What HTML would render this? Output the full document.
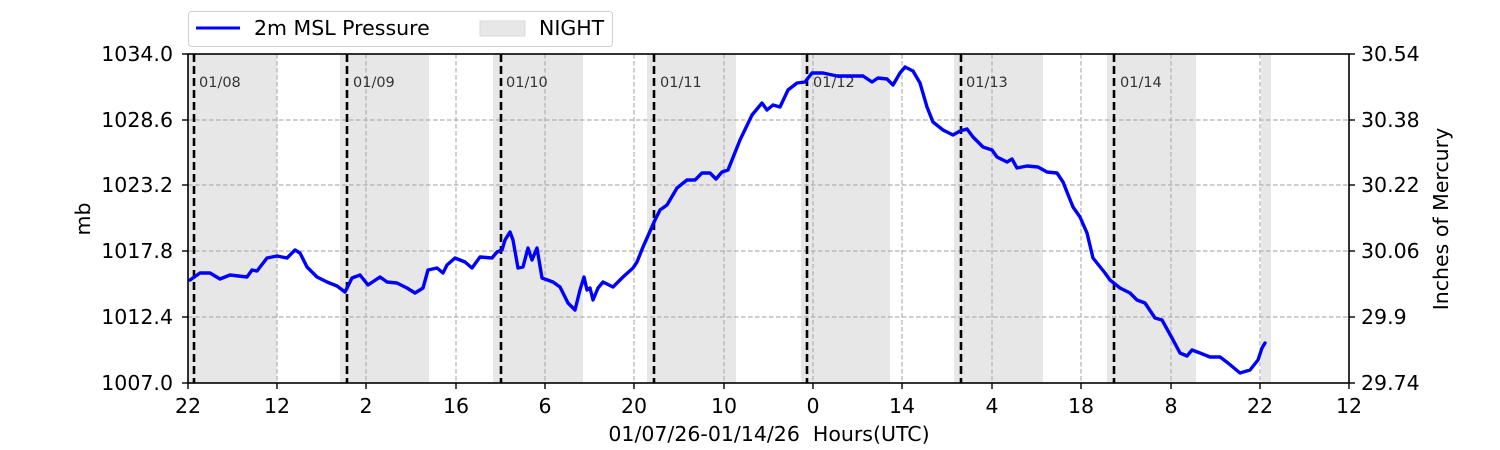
<!DOCTYPE html>
<html><head><meta charset="utf-8"><style>
html,body{margin:0;padding:0;background:#fff}
svg{display:block;font-family:"DejaVu Sans","Liberation Sans",sans-serif}
</style></head><body>
<svg width="1500" height="450" viewBox="0 0 1500 450" xmlns="http://www.w3.org/2000/svg">
<g fill="#e7e7e7">
<rect x="188" y="54" width="89" height="329"/>
<rect x="340" y="54" width="89" height="329"/>
<rect x="493" y="54" width="90" height="329"/>
<rect x="647" y="54" width="89" height="329"/>
<rect x="801" y="54" width="89" height="329"/>
<rect x="954" y="54" width="89" height="329"/>
<rect x="1107" y="54" width="89" height="329"/>
<rect x="1261" y="54" width="10" height="329"/>
</g>
<g stroke="#b0b0b0" stroke-width="1.2" stroke-dasharray="4.5,2.5" fill="none">
<line x1="188" y1="120" x2="1349" y2="120"/>
<line x1="188" y1="185" x2="1349" y2="185"/>
<line x1="188" y1="251" x2="1349" y2="251"/>
<line x1="188" y1="317" x2="1349" y2="317"/>
<line x1="277" y1="54" x2="277" y2="383"/>
<line x1="366" y1="54" x2="366" y2="383"/>
<line x1="456" y1="54" x2="456" y2="383"/>
<line x1="545" y1="54" x2="545" y2="383"/>
<line x1="634" y1="54" x2="634" y2="383"/>
<line x1="724" y1="54" x2="724" y2="383"/>
<line x1="813" y1="54" x2="813" y2="383"/>
<line x1="902" y1="54" x2="902" y2="383"/>
<line x1="992" y1="54" x2="992" y2="383"/>
<line x1="1081" y1="54" x2="1081" y2="383"/>
<line x1="1171" y1="54" x2="1171" y2="383"/>
<line x1="1260" y1="54" x2="1260" y2="383"/>
</g>
<g stroke="#000" stroke-width="2.6" stroke-dasharray="8,4" fill="none">
<line x1="194" y1="54" x2="194" y2="383"/>
<line x1="347" y1="54" x2="347" y2="383"/>
<line x1="501" y1="54" x2="501" y2="383"/>
<line x1="654" y1="54" x2="654" y2="383"/>
<line x1="807" y1="54" x2="807" y2="383"/>
<line x1="961" y1="54" x2="961" y2="383"/>
<line x1="1114" y1="54" x2="1114" y2="383"/>
</g>
<g font-size="14.5" fill="#333">
<text x="199" y="87">01/08</text><text x="353" y="87">01/09</text><text x="506" y="87">01/10</text>
<text x="660" y="87">01/11</text><text x="813" y="87">01/12</text><text x="966" y="87">01/13</text><text x="1120" y="87">01/14</text>
</g>
<polyline fill="none" stroke="#0000ff" stroke-width="3.4" stroke-linejoin="round" stroke-linecap="round" points="190,280 200,273 210,273 220,279 230,275 247,277 252,270 257,271 267,258 277,256 287,258 295,250 300,253 307,267 317,277 327,282 337,286 345,292 352,278 360,275 368,285 380,277 387,282 397,283 407,288 415,293 423,288 428,270 437,268 443,273 447,265 455,258 465,262 472,268 480,257 492,258 497,252 502,250 505,240 510,232 513,240 518,268 523,267 528,248 532,260 537,248 542,278 553,282 560,287 568,303 575,310 580,290 584,277 587,290 590,288 593,300 598,288 603,282 613,287 623,277 633,268 637,262 643,247 655,220 660,210 667,205 677,188 687,180 695,180 702,173 710,173 716,179 722,172 728,170 740,140 752,115 762,103 767,110 773,105 780,107 788,90 797,83 805,82 812,73 823,73 837,76 850,76 863,76 872,82 878,78 887,79 893,85 900,73 905,67 913,71 920,83 927,107 933,122 943,130 953,135 960,131 967,129 973,137 983,147 992,150 997,157 1007,162 1012,159 1017,168 1027,166 1038,167 1047,172 1057,173 1063,182 1073,207 1080,217 1087,233 1093,258 1105,273 1110,280 1120,288 1130,293 1137,300 1145,303 1155,318 1162,320 1172,338 1180,353 1187,356 1192,350 1200,353 1210,357 1220,357 1228,363 1240,373 1250,370 1258,360 1262,348 1265,343"/>
<rect x="188" y="54" width="1161" height="329" fill="none" stroke="#000" stroke-width="1.6"/>
<g stroke="#000" stroke-width="1.4">
<line x1="188" y1="383" x2="188" y2="389"/><line x1="277" y1="383" x2="277" y2="389"/><line x1="366" y1="383" x2="366" y2="389"/><line x1="456" y1="383" x2="456" y2="389"/><line x1="545" y1="383" x2="545" y2="389"/><line x1="634" y1="383" x2="634" y2="389"/><line x1="724" y1="383" x2="724" y2="389"/><line x1="813" y1="383" x2="813" y2="389"/><line x1="902" y1="383" x2="902" y2="389"/><line x1="992" y1="383" x2="992" y2="389"/><line x1="1081" y1="383" x2="1081" y2="389"/><line x1="1171" y1="383" x2="1171" y2="389"/><line x1="1260" y1="383" x2="1260" y2="389"/><line x1="1349" y1="383" x2="1349" y2="389"/>
<line x1="182" y1="54" x2="188" y2="54"/><line x1="182" y1="120" x2="188" y2="120"/><line x1="182" y1="185" x2="188" y2="185"/><line x1="182" y1="251" x2="188" y2="251"/><line x1="182" y1="317" x2="188" y2="317"/><line x1="182" y1="383" x2="188" y2="383"/>
<line x1="1349" y1="54" x2="1355" y2="54"/><line x1="1349" y1="120" x2="1355" y2="120"/><line x1="1349" y1="185" x2="1355" y2="185"/><line x1="1349" y1="251" x2="1355" y2="251"/><line x1="1349" y1="317" x2="1355" y2="317"/><line x1="1349" y1="383" x2="1355" y2="383"/>
</g>
<g font-size="20.5" fill="#000" text-anchor="middle">
<text x="188" y="413">22</text><text x="277" y="413">12</text><text x="366" y="413">2</text><text x="456" y="413">16</text><text x="545" y="413">6</text><text x="634" y="413">20</text><text x="724" y="413">10</text><text x="813" y="413">0</text><text x="902" y="413">14</text><text x="992" y="413">4</text><text x="1081" y="413">18</text><text x="1171" y="413">8</text><text x="1260" y="413">22</text><text x="1349" y="413">12</text>
<text x="769" y="441" style="white-space:pre">01/07/26-01/14/26&#160; Hours(UTC)</text>
<text transform="translate(90,219) rotate(-90)">mb</text>
<text transform="translate(1448,219) rotate(-90)">Inches of Mercury</text>
</g>
<g font-size="20.5" fill="#000" text-anchor="end">
<text x="173" y="61">1034.0</text><text x="173" y="127">1028.6</text><text x="173" y="192">1023.2</text><text x="173" y="258">1017.8</text><text x="173" y="324">1012.4</text><text x="173" y="390">1007.0</text>
</g>
<g font-size="20.5" fill="#000">
<text x="1361" y="61">30.54</text><text x="1361" y="127">30.38</text><text x="1361" y="192">30.22</text><text x="1361" y="258">30.06</text><text x="1361" y="324">29.9</text><text x="1361" y="390">29.74</text>
</g>
<rect x="188.5" y="11.5" width="424" height="35" rx="3" fill="#fff" stroke="#d0d0d0" stroke-width="1"/>
<line x1="196" y1="28" x2="240" y2="28" stroke="#0000ff" stroke-width="3"/>
<text x="254" y="35" font-size="20.5">2m MSL Pressure</text>
<rect x="480" y="21" width="45" height="15" fill="#e7e7e7" stroke="#d8d8d8"/>
<text x="539" y="35" font-size="20.5">NIGHT</text>
</svg>
</body></html>
